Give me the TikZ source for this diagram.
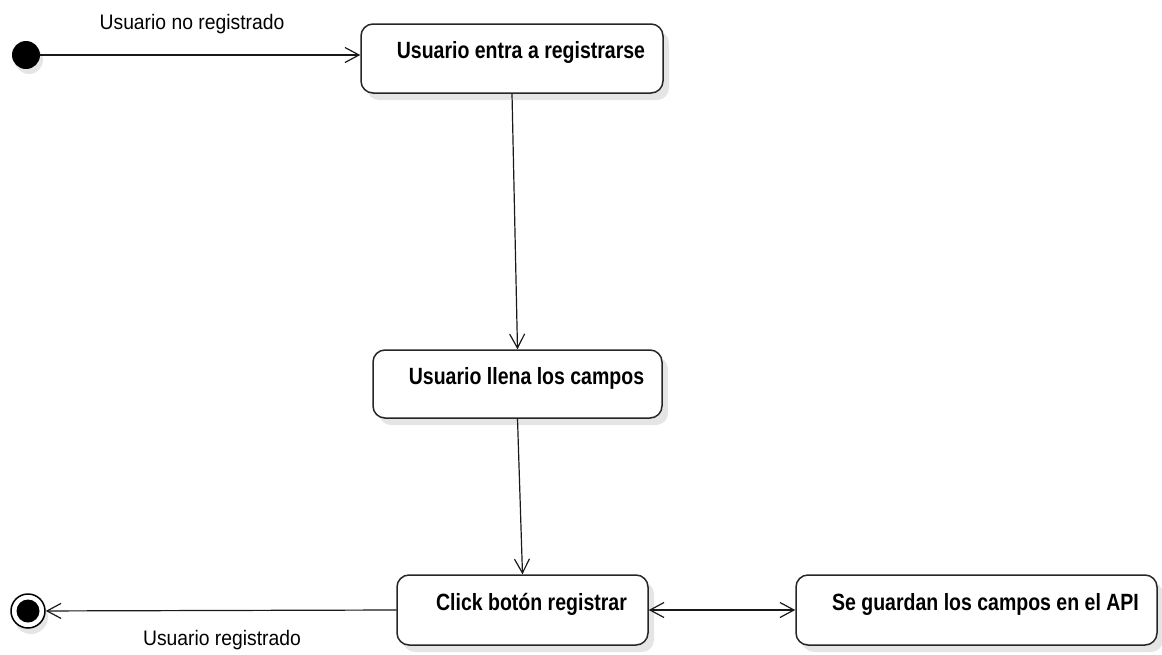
\documentclass[tikz,border=0pt]{standalone}
\usepackage{fontspec}
\setmainfont{Liberation Sans}
\newfontfamily\statefont[FakeStretch=0.83]{Liberation Sans}
\newfontfamily\flowfont[FakeStretch=0.92]{Liberation Sans}
\usetikzlibrary{arrows.meta, shadows}
\begin{document}
\begin{tikzpicture}[x=1pt, y=-1pt, line join=round, line cap=round,
		>={Straight Barb[length=14pt, width=15pt]},
		state/.style={draw=black!85, line width=1.5pt, rounded corners=12pt, fill=white,
			drop shadow={shadow xshift=6pt, shadow yshift=-7pt, fill=black!10, opacity=1}},
		statetext/.style={anchor=base, xshift=9pt, inner sep=0pt, font=\statefont\bfseries\fontsize{23.5}{28}\selectfont},
		flowtext/.style={anchor=base, inner sep=0pt, font=\flowfont\fontsize{21}{25}\selectfont},
		flow/.style={->, line width=1.2pt, draw=black!90}]
	\useasboundingbox (0,0) rectangle (1162,654);
	
	% estados
	\node[state, minimum width=302pt, minimum height=69pt] (entra) at (512,58.5) {};
	\node[state, minimum width=289pt, minimum height=68pt] (llena) at (517.5,384) {};
	\node[state, minimum width=251pt, minimum height=70pt] (click) at (522.5,610) {};
	\node[state, minimum width=361pt, minimum height=70pt] (guarda) at (976.5,610) {};
	
	\node[statetext] (entraT) at (entra.center) {Usuario entra a registrarse};
	\node[statetext] (llenaT) at (llena.center) {Usuario llena los campos};
	\node[statetext] (clickT) at (click.center) {Click botón registrar};
	\node[statetext] (guardaT) at (guarda.center) {Se guardan los campos en el API};
	
	% inicio y fin
	\fill[black!10] (29,60) circle (14);
	\node[circle, fill=black, inner sep=0pt, minimum size=28pt] (inicio) at (26,55) {};
	\fill[black!10] (31,617) circle (17);
	\node[circle, draw=black, fill=white, line width=1.5pt, inner sep=0pt, minimum size=34pt] (fin) at (28,611) {};
	\fill (fin.center) circle (11.5);
	
	% transiciones
	\draw[flow] (inicio) -- (inicio -| entra.west);
	\draw[flow] (entra.south) -- (llena.north);
	\draw[flow] (llena.south) -- (click.north);
	\draw[flow, <->] (click.east) -- (guarda.west);
	\draw[flow] (click.west) -- (fin);
	
	\node[flowtext] (noreg) at (192,29) {Usuario no registrado};
	\node[flowtext] (reg) at (222,645) {Usuario registrado};
\end{tikzpicture}
\end{document}
